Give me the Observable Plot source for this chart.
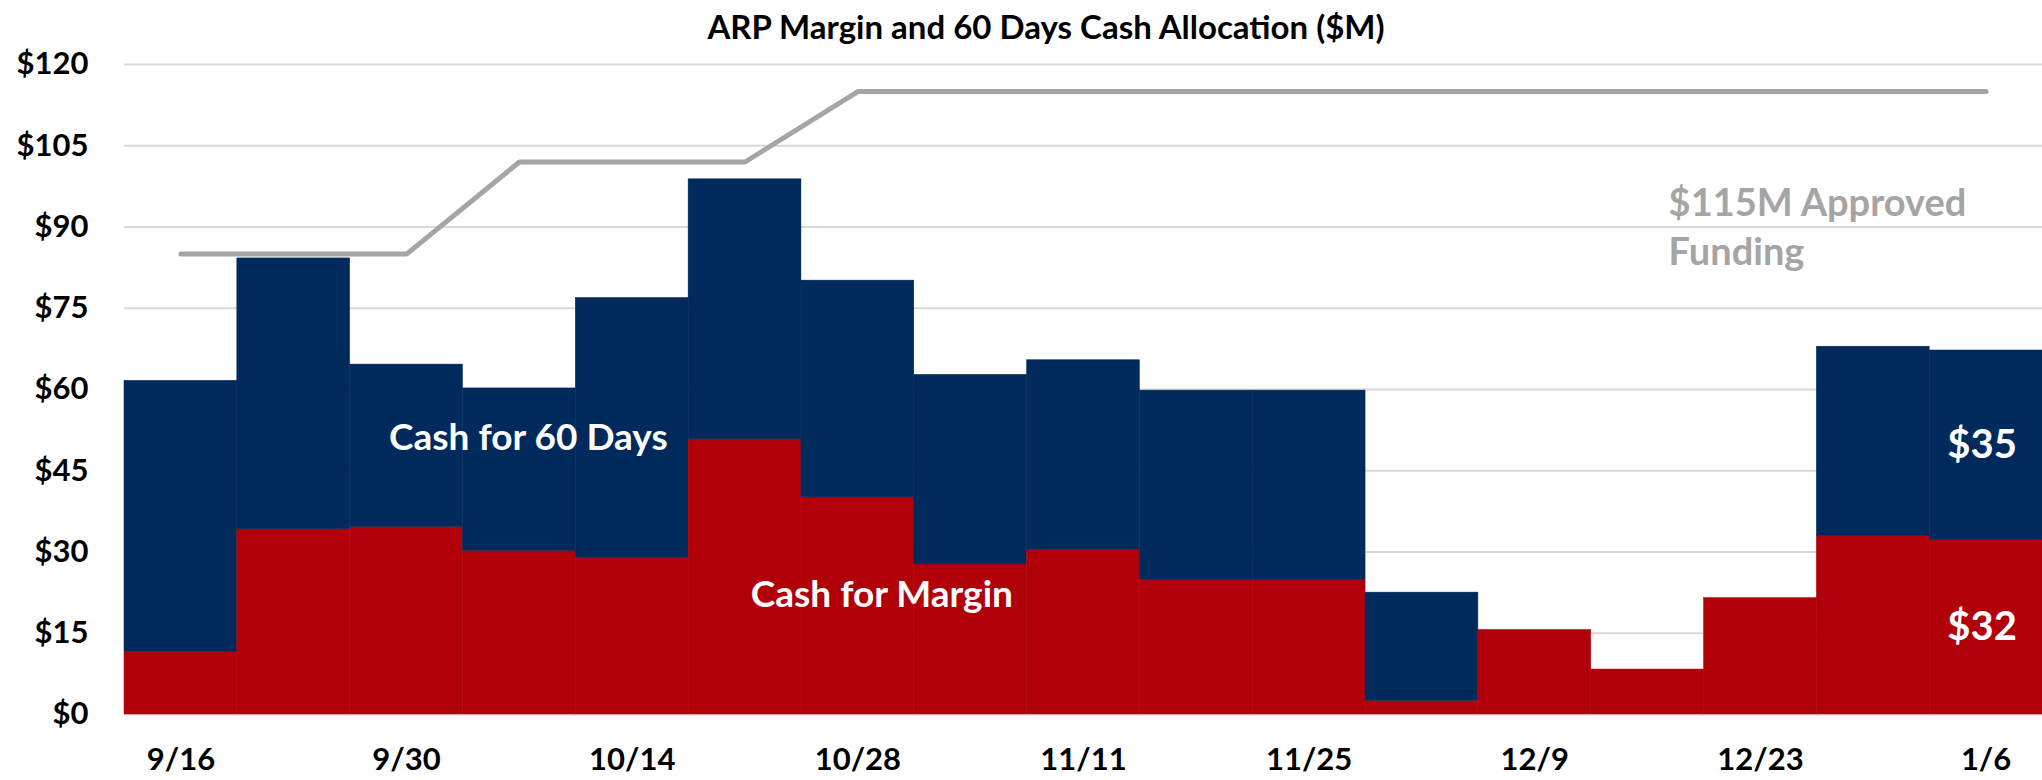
<!DOCTYPE html>
<html><head><meta charset="utf-8">
<script src="https://cdn.jsdelivr.net/npm/d3@7"></script>
<script src="https://cdn.jsdelivr.net/npm/@observablehq/plot@0.6"></script>
<style>
html,body{margin:0;padding:0;background:#fff;}
body{font-family:Lato,"Open Sans",sans-serif;}
#title{height:50px;width:2042px;box-sizing:border-box;padding-left:50px;text-align:center;font-weight:700;font-size:33px;line-height:52px;color:#000;}
</style></head><body>
<div id="title">ARP Margin and 60 Days Cash Allocation ($M)</div>
<div id="chart"></div>
<script>
const dates = ["9/16","9/23","9/30","10/7","10/14","10/21","10/28","11/4","11/11","11/18","11/25","12/2","12/9","12/16","12/23","12/30","1/6"];
const cashForMargin = [11.6,34.2,34.6,30.2,28.9,50.8,40.1,27.7,30.4,24.8,24.8,2.5,15.6,8.3,21.5,32.9,32.2];
const cashFor60Days = [50,50,30,30,48,48,40,35,35,35,35,20,0,0,0,35,35];
const approvedFunding = [85,85,85,102,102,102,115,115,115,115,115,115,115,115,115,115,115];
const xTickLabels = ["9/16","9/30","10/14","10/28","11/11","11/25","12/9","12/23","1/6"];
const yTicks = [0,15,30,45,60,75,90,105,120];
const seriesNames = ["Cash for Margin","Cash for 60 Days"];

const rows = dates.flatMap((d,i)=>[
  {date:d, series:seriesNames[0], value:cashForMargin[i]},
  {date:d, series:seriesNames[1], value:cashFor60Days[i]}
]);
const lastRows = rows.filter(r => r.date === dates[dates.length-1]);
const fundingRows = dates.map((d,i)=>({date:d, value:approvedFunding[i]}));

const chart = Plot.plot({
  width:2042, height:730,
  marginTop:14, marginBottom:66, marginLeft:124, marginRight:0,
  style:{fontFamily:"Lato, 'Open Sans', sans-serif", fontWeight:700, fontSize:"31px", color:"#000", background:"#fff", overflow:"visible"},
  x:{domain:dates, padding:0, round:false, label:null, ticks:xTickLabels, tickSize:0, tickPadding:33},
  y:{domain:[0,120], ticks:yTicks, tickFormat:d=>"$"+d, label:null, tickSize:0, tickPadding:36},
  color:{domain:seriesNames, range:["#B2000B","#002A5C"]},
  marks:[
    Plot.gridY(yTicks,{stroke:"#D9D9D9", strokeOpacity:1, strokeWidth:2}),
    Plot.barY(rows,{x:"date", y:"value", fill:"series", stroke:"series", strokeWidth:0.5}),
    Plot.line(fundingRows,{x:"date", y:"value", stroke:"#A5A5A5", strokeWidth:5, strokeLinecap:"round", strokeLinejoin:"miter"}),
    Plot.text(["Cash for 60 Days"],{x:()=>"10/7", y:()=>51, dx:9, fill:"#fff", fontSize:37, fontWeight:700}),
    Plot.text(["Cash for Margin"],{x:()=>"10/28", y:()=>22, dx:24, fill:"#fff", fontSize:37, fontWeight:700}),
    Plot.text(lastRows, Plot.stackY({x:"date", y:"value", z:"series", text:d=>"$"+Math.round(d.value), fill:"#fff", fontSize:40, fontWeight:700, dx:-4})),
    Plot.text(["$115M Approved\nFunding"],{x:()=>"12/16", y:()=>98.5, dx:21, textAnchor:"start", lineAnchor:"top", lineHeight:1.3, fill:"#A5A5A5", fontSize:38, fontWeight:700})
  ]
});
document.getElementById("chart").append(chart);
</script>
</body></html>
